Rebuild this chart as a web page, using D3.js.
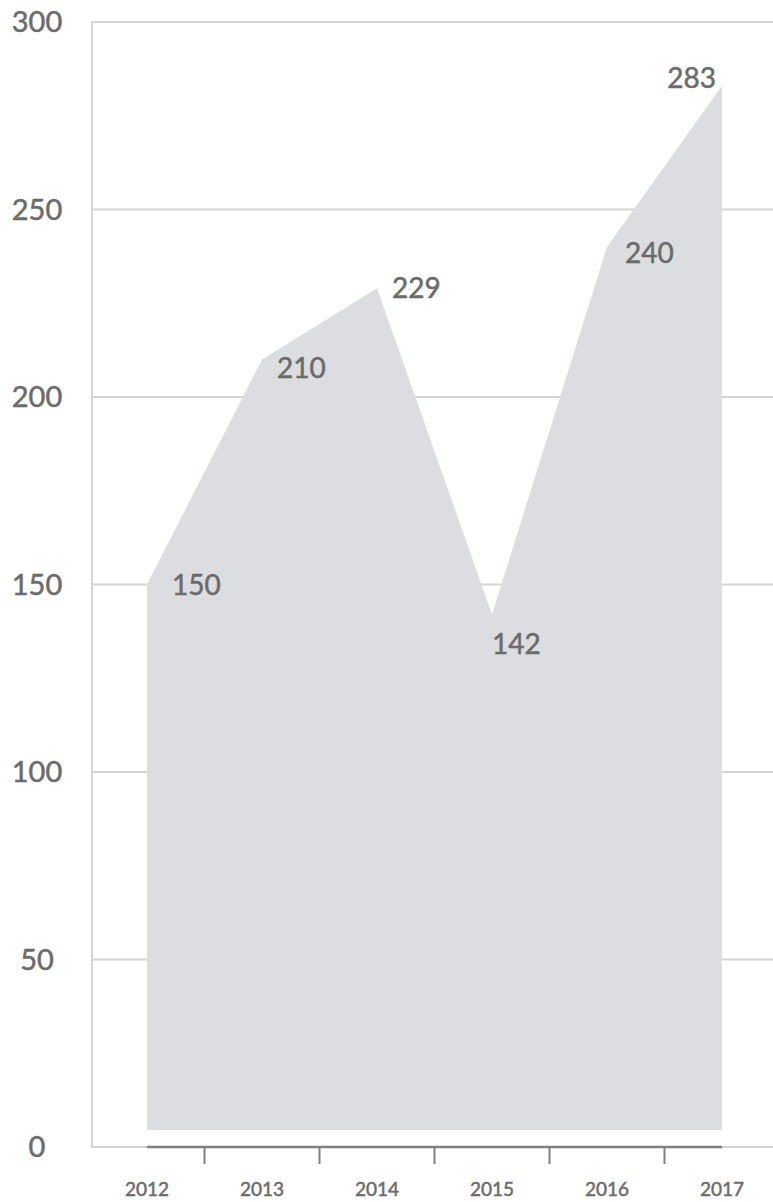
<!DOCTYPE html>
<html>
<head>
<meta charset="utf-8">
<script src="https://cdn.jsdelivr.net/npm/d3@7"></script>
<style>
  body { margin: 0; background: #fff; }
  svg text { font-family: Lato, "Open Sans", sans-serif; fill: #6b6b6b; stroke: #6b6b6b; stroke-width: 0.5px; }
</style>
</head>
<body>
<svg class="plot"></svg>
<script>
const years = ["2012", "2013", "2014", "2015", "2016", "2017"];
const values = [150, 210, 229, 142, 240, 283];
const yTicks = [0, 50, 100, 150, 200, 250, 300];

// where each value label sits relative to its point
const labelOffsets = [
  {dx: 25, dy: 10, anchor: "start"},
  {dx: 15, dy: 18, anchor: "start"},
  {dx: 15, dy: 10, anchor: "start"},
  {dx: 0, dy: 39, anchor: "start"},
  {dx: 18, dy: 16, anchor: "start"},
  {dx: -6, dy: 2, anchor: "end"}
];

const width = 773,
      height = 1202,
      axisX = 92,
      baseGap = 17;

const data = years.map((yr, i) => ({year: yr, value: values[i]}));

let x = d3.scalePoint()
          .domain(years)
          .range([147, 722]);

let y = d3.scaleLinear()
          .domain([0, 300])
          .range([1147, 22]);

let chart = d3.select(".plot")
              .attr("width", width)
              .attr("height", height);

// grid lines
chart.append("g")
     .selectAll("line")
     .data(yTicks.filter(d => d > 0))
     .enter().append("line")
     .attr("x1", axisX)
     .attr("x2", width)
     .attr("y1", d => y(d))
     .attr("y2", d => y(d))
     .attr("stroke", "#d4d4d4")
     .attr("stroke-width", 2);

// y axis line
chart.append("line")
     .attr("x1", axisX).attr("x2", axisX)
     .attr("y1", y(300) - 1).attr("y2", y(0) + 1)
     .attr("stroke", "#d4d4d4")
     .attr("stroke-width", 2);

// y labels
chart.append("g")
     .selectAll("text")
     .data(yTicks)
     .enter().append("text")
     .attr("x", 37)
     .attr("y", d => y(d))
     .attr("dy", "0.35em")
     .attr("text-anchor", "middle")
     .style("font-size", "29px")
     .text(d => d);

// area
let area = d3.area()
             .x(d => x(d.year))
             .y0(y(0) - baseGap)
             .y1(d => y(d.value));

chart.append("path")
     .datum(data)
     .attr("d", area)
     .attr("fill", "#dcdde0");

// baseline
chart.append("line")
     .attr("x1", axisX).attr("x2", width)
     .attr("y1", y(0)).attr("y2", y(0))
     .attr("stroke", "#d4d4d4")
     .attr("stroke-width", 2);

chart.append("line")
     .attr("x1", x(years[0])).attr("x2", x(years[years.length - 1]))
     .attr("y1", y(0)).attr("y2", y(0))
     .attr("stroke", "#808080")
     .attr("stroke-width", 2.5);

// ticks between years
chart.append("g")
     .selectAll("line")
     .data(d3.pairs(years))
     .enter().append("line")
     .attr("x1", d => (x(d[0]) + x(d[1])) / 2)
     .attr("x2", d => (x(d[0]) + x(d[1])) / 2)
     .attr("y1", y(0))
     .attr("y2", y(0) + 17)
     .attr("stroke", "#808080")
     .attr("stroke-width", 2);

// x labels
chart.append("g")
     .selectAll("text")
     .data(years)
     .enter().append("text")
     .attr("x", d => x(d))
     .attr("y", y(0) + 49)
     .attr("text-anchor", "middle")
     .style("font-size", "19px")
     .text(d => d);

// value labels
chart.append("g")
     .selectAll("text")
     .data(data)
     .enter().append("text")
     .attr("x", (d, i) => x(d.year) + labelOffsets[i].dx)
     .attr("y", (d, i) => y(d.value) + labelOffsets[i].dy)
     .attr("text-anchor", (d, i) => labelOffsets[i].anchor)
     .style("font-size", "28px")
     .text(d => d.value);
</script>
</body>
</html>
